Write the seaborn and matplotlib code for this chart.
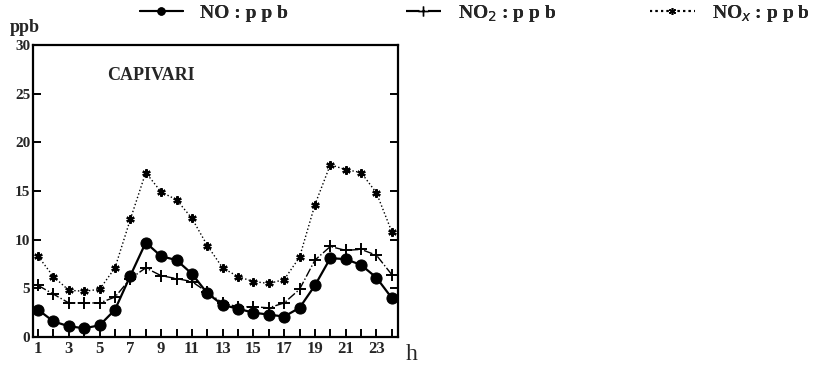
import pandas as pd
import numpy as np
from matplotlib import pyplot as plt
from matplotlib.lines import Line2D
import seaborn as sns

hours = list(range(1, 25))
no_ppb = [2.8, 1.6, 1.1, 0.9, 1.2, 2.8, 6.3, 9.7, 8.3, 7.9, 6.5, 4.5,
          3.3, 2.9, 2.5, 2.3, 2.1, 3.0, 5.3, 8.1, 8.0, 7.4, 6.1, 4.0]
no2_ppb = [5.3, 4.4, 3.5, 3.5, 3.5, 4.1, 6.0, 7.1, 6.3, 6.0, 5.7, 4.6,
           3.5, 3.1, 3.1, 3.0, 3.5, 4.9, 7.9, 9.3, 8.9, 9.0, 8.4, 6.4]
nox_ppb = [8.3, 6.2, 4.8, 4.7, 4.9, 7.1, 12.1, 16.9, 14.9, 14.1, 12.2, 9.4,
           7.1, 6.2, 5.7, 5.5, 5.9, 8.2, 13.6, 17.7, 17.2, 16.9, 14.8, 10.8]
y_ticks = [0, 5, 10, 15, 20, 25, 30]
x_labels = [str(h) if h % 2 == 1 else "" for h in hours]

df = pd.DataFrame({"h": hours, "NO": no_ppb, "NO2": no2_ppb, "NOx": nox_ppb})

sns.set_theme(style="white")
plt.rcParams['font.family'] = ['Liberation Serif', 'DejaVu Serif']

fig = plt.figure(figsize=(8.4, 3.69), dpi=100)
ax = fig.add_axes([33 / 840, 32 / 369, 365 / 840, 292 / 369])

sns.lineplot(data=df, x="h", y="NOx", ax=ax, color="black", linestyle=":",
             linewidth=1.0, marker=(6, 2, 0), markersize=6, markeredgewidth=1.6,
             markeredgecolor="black")
sns.lineplot(data=df, x="h", y="NO2", ax=ax, color="black", linestyle="-.",
             linewidth=1.0, marker="+", markersize=9, markeredgewidth=1.4,
             markeredgecolor="black")
sns.lineplot(data=df, x="h", y="NO", ax=ax, color="black", linestyle="-",
             linewidth=1.6, marker="o", markersize=8, markeredgecolor="black")

ax.set_xlim(0.67, 24.4)
ax.set_ylim(0, 30)
ax.set_xticks(hours)
ax.set_xticklabels(x_labels, fontsize=12, fontweight="bold")
ax.set_yticks(y_ticks)
ax.set_yticklabels([str(t) for t in y_ticks], fontsize=11, fontweight="bold")
ax.set_xlabel("")
ax.set_ylabel("")
ax.tick_params(axis="both", direction="in", length=6, width=1.4, color="black",
               right=True, bottom=True, left=True, pad=3)
ax.tick_params(axis="y", pad=2)
for s in ax.spines.values():
    s.set_color("black")
    s.set_linewidth(1.6)

ax.text(0.203, 0.897, "CAPIVARI", transform=ax.transAxes, fontsize=13,
        fontweight="bold", va="center", ha="left")

fig.text(10 / 840, 1 - 27 / 369, "ppb", fontsize=13, fontweight="bold",
         va="center", ha="left")
fig.text(406 / 840, 1 - 355 / 369, "h", fontsize=17, va="center", ha="left")

h_no = Line2D([], [], color="black", linestyle="-", marker="o", markersize=5)
h_no2 = Line2D([], [], color="black", linestyle="-.", marker="+", markersize=7)
h_nox = Line2D([], [], color="black", linestyle=":", marker=(6, 2, 0),
               markersize=5)
for handle, label, x, hl in [(h_no, "NO : p p b", 132, 2.2),
                             (h_no2, "NO$_2$ : p p b", 398, 1.8),
                             (h_nox, "NO$_x$ : p p b", 642, 2.3)]:
    leg = fig.legend([handle], [label], loc="center left",
                     bbox_to_anchor=(x / 840, 1 - 13 / 369), frameon=False,
                     handlelength=hl, handletextpad=0.9, borderaxespad=0,
                     prop={"weight": "bold", "size": 14})
    fig.add_artist(leg)

plt.savefig("out.png", dpi=100)
